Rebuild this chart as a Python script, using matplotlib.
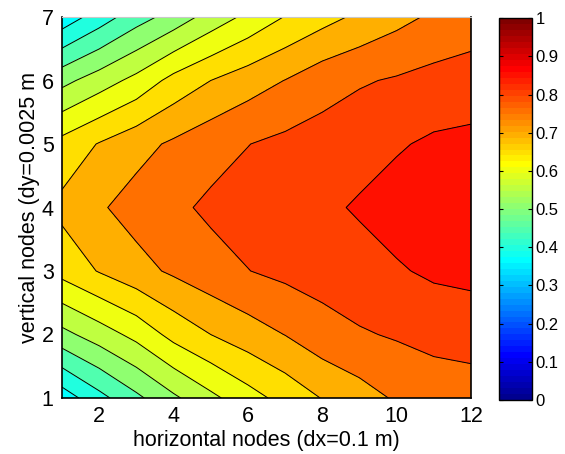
import numpy as np
import matplotlib
matplotlib.use('Agg')
import matplotlib.pyplot as plt
from matplotlib.colors import ListedColormap, Normalize
from matplotlib.cm import ScalarMappable

plt.rcParams['font.family'] = ['Liberation Sans', 'DejaVu Sans']

# node grid
x_nodes = np.arange(1, 13)
y_nodes = np.arange(1, 8)

# values per row (y = 1 .. 7)
row_y1 = [0.372, 0.434, 0.489, 0.541, 0.588, 0.630, 0.667, 0.702, 0.729, 0.756, 0.770, 0.780]
row_y2 = [0.535, 0.575, 0.615, 0.666, 0.700, 0.727, 0.751, 0.780, 0.795, 0.805, 0.816, 0.817]
row_y3 = [0.667, 0.703, 0.733, 0.758, 0.781, 0.799, 0.812, 0.820, 0.832, 0.845, 0.858, 0.865]
row_y4 = [0.713, 0.744, 0.770, 0.790, 0.809, 0.820, 0.831, 0.841, 0.855, 0.870, 0.878, 0.880]
row_y5 = [0.667, 0.703, 0.733, 0.758, 0.781, 0.799, 0.812, 0.820, 0.832, 0.845, 0.858, 0.865]
row_y6 = [0.535, 0.575, 0.615, 0.666, 0.700, 0.727, 0.751, 0.780, 0.795, 0.805, 0.816, 0.817]
row_y7 = [0.368, 0.424, 0.478, 0.520, 0.570, 0.612, 0.652, 0.682, 0.710, 0.735, 0.758, 0.780]

contour_levels = [0.40, 0.45, 0.50, 0.55, 0.60, 0.65, 0.70, 0.75, 0.80, 0.85]
cbar_ticks = [0, 0.1, 0.2, 0.3, 0.4, 0.5, 0.6, 0.7, 0.8, 0.9, 1]


def matlab_jet(m=64):
    n = int(np.ceil(m / 4))
    u = np.concatenate([np.arange(1, n + 1) / n, np.ones(n - 1), np.arange(n, 0, -1) / n])
    g = int(np.ceil(n / 2)) - (1 if m % 4 == 1 else 0) + np.arange(1, len(u) + 1)
    r = g + n
    b = g - n
    J = np.zeros((m, 3))
    ok = r <= m
    J[r[ok] - 1, 0] = u[ok]
    ok = g <= m
    J[g[ok] - 1, 1] = u[ok]
    ok = b > 0
    J[b[ok] - 1, 2] = u[ok]
    return J


jet = matlab_jet(64)
cmap = ListedColormap(jet)


def band_color(v):
    i = min(int(np.floor(v * 64)), 63)
    return jet[i]


Z = np.array([row_y1, row_y2, row_y3, row_y4, row_y5, row_y6, row_y7])
X, Y = np.meshgrid(x_nodes, y_nodes)

fill_levels = [0.0] + contour_levels + [1.0]
fill_colors = [band_color(Z.min())] + [band_color(l) for l in contour_levels]

fig = plt.figure(figsize=(5.65, 4.54), dpi=100)
ax = fig.add_axes([62 / 565, 56 / 454, 409 / 565, 381 / 454])
ax.contourf(X, Y, Z, levels=fill_levels, colors=fill_colors)
ax.contour(X, Y, Z, levels=contour_levels, colors='k', linewidths=0.7)

ax.set_xlim(1, 12)
ax.set_ylim(1, 7)
ax.set_xticks([2, 4, 6, 8, 10, 12])
ax.set_yticks([1, 2, 3, 4, 5, 6, 7])
ax.tick_params(labelsize=15.5, length=0, pad=6)
ax.spines['top'].set_color('#c8c8c8')
for s in ['left', 'right', 'bottom']:
    ax.spines[s].set_linewidth(1.2)
ax.set_xlabel('horizontal nodes (dx=0.1 m)', fontsize=15.5, labelpad=2)
ax.set_ylabel('vertical nodes (dy=0.0025 m', fontsize=15.5, labelpad=1)

cax = fig.add_axes([499 / 565, 54 / 454, 32.5 / 565, 381.7 / 454])
sm = ScalarMappable(norm=Normalize(0, 1), cmap=cmap)
cb = fig.colorbar(sm, cax=cax, ticks=cbar_ticks)
cb.ax.set_yticklabels([f'{t:g}' for t in cbar_ticks])
cb.ax.tick_params(direction='in', labelsize=12, length=3, left=True, right=True, pad=3)
cb.outline.set_linewidth(1.0)

fig.savefig('out.png', dpi=100)
